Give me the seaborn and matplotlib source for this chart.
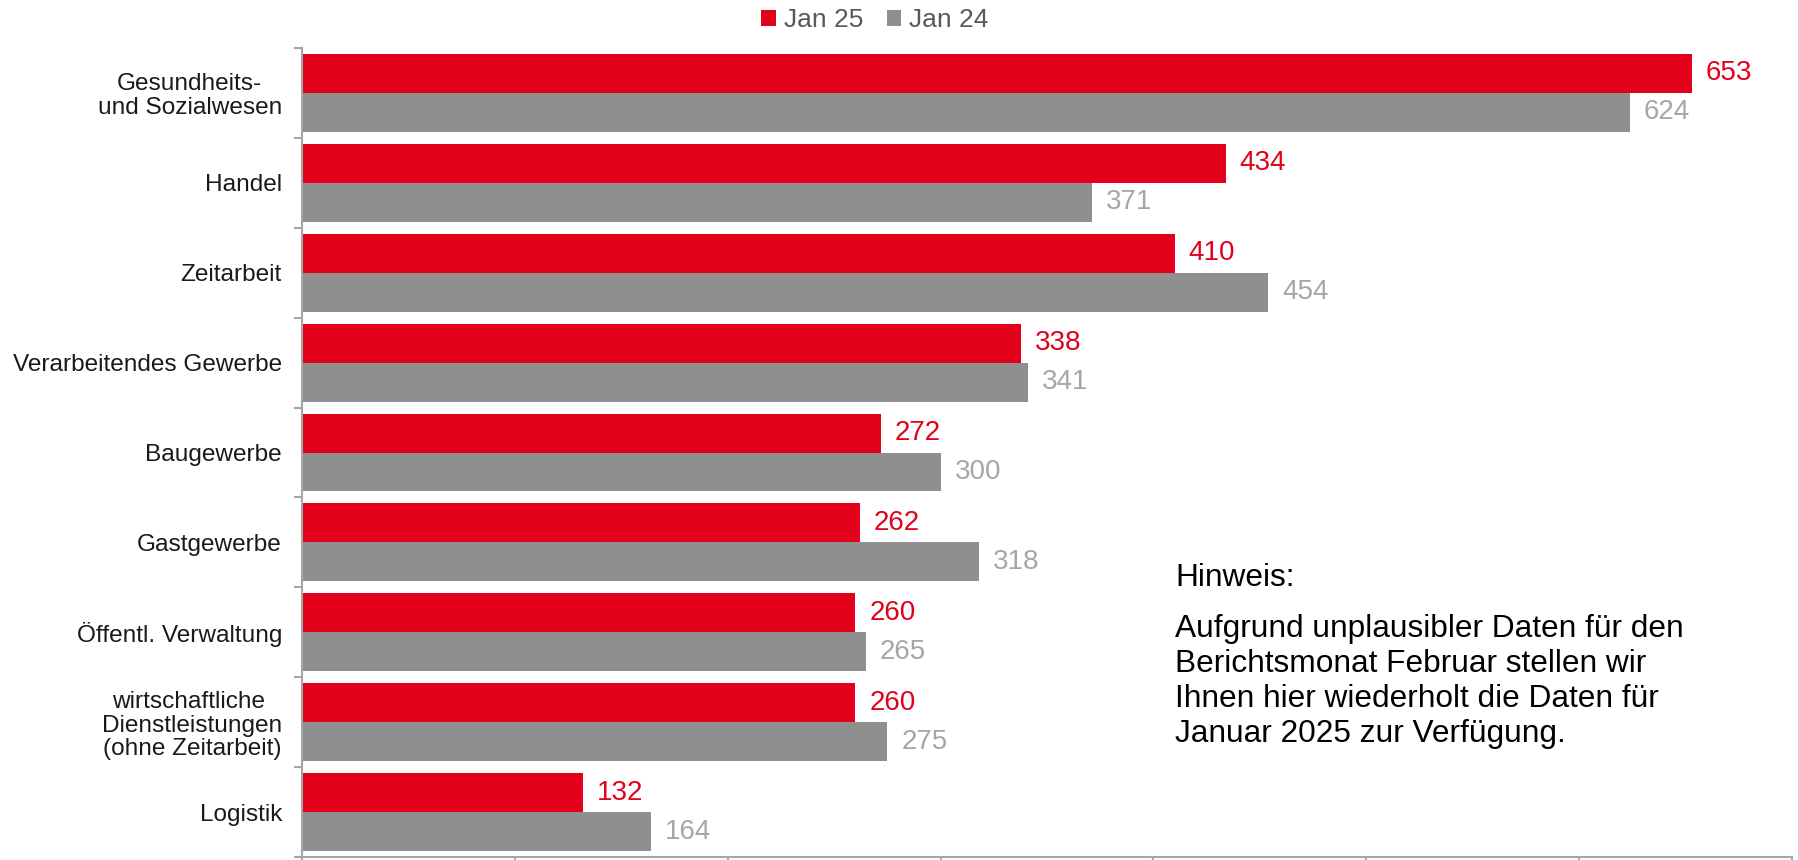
import numpy as np
import pandas as pd
import matplotlib
matplotlib.use("Agg")
import matplotlib.pyplot as plt
import seaborn as sns

categories = [
    "Gesundheits-\nund Sozialwesen",
    "Handel",
    "Zeitarbeit",
    "Verarbeitendes Gewerbe",
    "Baugewerbe",
    "Gastgewerbe",
    "Öffentl. Verwaltung",
    "wirtschaftliche \nDienstleistungen\n(ohne Zeitarbeit)",
    "Logistik",
]
series_names = ["Jan 25", "Jan 24"]
jan25 = [653, 434, 410, 338, 272, 262, 260, 260, 132]
jan24 = [624, 371, 454, 341, 300, 318, 265, 275, 164]
x_ticks = [0, 100, 200, 300, 400, 500, 600, 700]
note_title = "Hinweis:"
note_lines = [
    "Aufgrund unplausibler Daten für den",
    "Berichtsmonat Februar stellen wir",
    "Ihnen hier wiederholt die Daten für",
    "Januar 2025 zur Verfügung.",
]

RED = "#E2001A"
GRAY = "#8F8F8F"
LABEL_GRAY = "#A6A6A6"
AXIS_GRAY = "#A6A6A6"

df = pd.DataFrame({
    "Kategorie": categories * 2,
    "Serie": [series_names[0]] * len(categories) + [series_names[1]] * len(categories),
    "Wert": jan25 + jan24,
})

sns.set_style("white")
plt.rcParams["font.family"] = ["Liberation Sans", "DejaVu Sans"]

W, H, DPI = 1799, 860, 100
fig = plt.figure(figsize=(W / DPI, H / DPI), dpi=DPI)
ax = fig.add_axes([302 / W, 3 / H, (1792 - 302) / W, (857 - 48) / H])

sns.barplot(
    data=df, y="Kategorie", x="Wert", hue="Serie", order=categories,
    hue_order=series_names, palette=[RED, GRAY], orient="h", saturation=1,
    width=0.867, linewidth=0, ax=ax, legend=True,
)

ax.set_xlim(0, 700)
ax.set_ylim(len(categories) - 0.5, -0.5)
ax.set_xlabel("")
ax.set_ylabel("")

# value labels
label_colors = [RED, LABEL_GRAY]
for cont, col in zip(ax.containers, label_colors):
    ax.bar_label(cont, fmt="%d", padding=10, color=col, fontsize=20)

# axes styling
for s in ["top", "right"]:
    ax.spines[s].set_visible(False)
for s in ["left", "bottom"]:
    ax.spines[s].set_color(AXIS_GRAY)
    ax.spines[s].set_linewidth(1.5)

ax.set_xticks(x_ticks)
ax.tick_params(axis="x", which="major", direction="out", length=6, width=1.5,
               color=AXIS_GRAY, labelbottom=False, bottom=True)
ax.set_yticks(np.arange(-0.5, len(categories), 1.0), minor=True)
ax.tick_params(axis="y", which="minor", direction="out", length=6, width=1.5,
               color=AXIS_GRAY, left=True)
ax.tick_params(axis="y", which="major", length=0, pad=14.4, labelsize=17.6,
               labelcolor="#1a1a1a")
for t in ax.get_yticklabels():
    t.set_multialignment("center")
    t.set_linespacing(1.1)

# legend
handles, labels = ax.get_legend_handles_labels()
if ax.legend_ is not None:
    ax.legend_.remove()
fig.legend(handles, labels, loc="center", bbox_to_anchor=(875 / W, 1 - 20 / H),
           ncol=2, frameon=False, fontsize=19, handlelength=0.55,
           handleheight=0.55, handletextpad=0.3, columnspacing=0.9,
           labelcolor="#595959")

# note
nx = 1175 / W
fig.text(nx, 1 - 586 / H, note_title, fontsize=22.8, va="baseline", ha="left",
         color="black")
for i, line in enumerate(note_lines):
    fig.text(nx, 1 - (637 + 35 * i) / H, line, fontsize=22.8, va="baseline",
             ha="left", color="black")

fig.savefig("out.png", dpi=DPI)
